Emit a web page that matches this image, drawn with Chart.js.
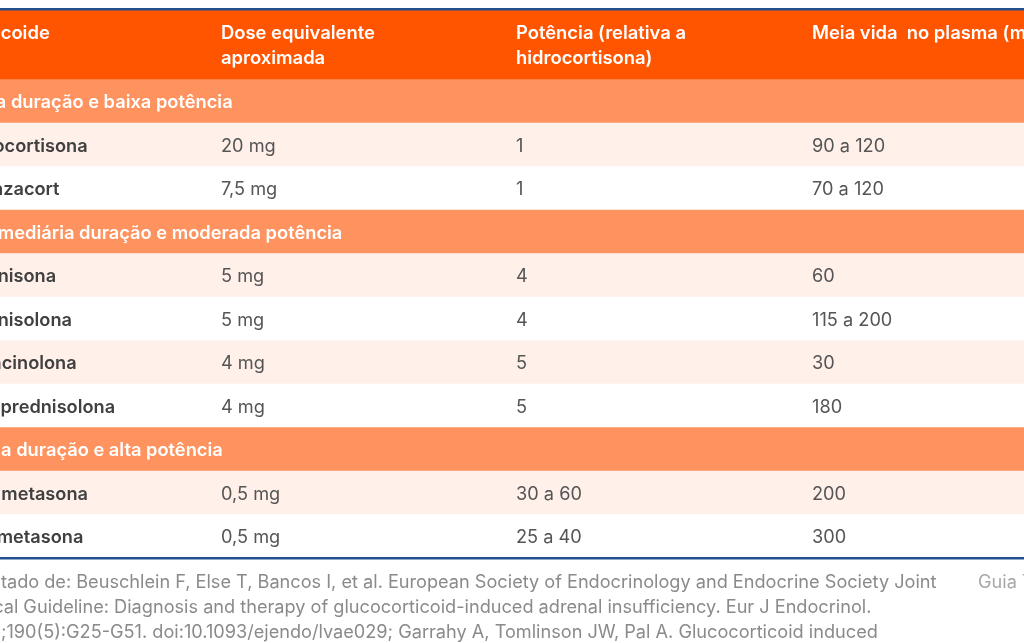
<!DOCTYPE html>
<html>
<head>
<meta charset="utf-8">
<script src="https://cdn.jsdelivr.net/npm/chart.js@4/dist/chart.umd.min.js"></script>
<style>
  html, body { margin: 0; padding: 0; background: #fff; overflow: hidden; }
  #wrap { position: relative; width: 1024px; height: 643px; overflow: hidden; }
  #chartBox { position: absolute; left: 0; top: 0; width: 1024px; height: 643px; }
  .foot { position: absolute; font-family: Inter, "Noto Sans", sans-serif; font-size: 18.15px; line-height: 25px; white-space: nowrap; }
  #note { left: -44px; top: 569px; color: #8a8a8a; }
  #side { left: 978px; top: 569px; color: #a8a8a8; }
</style>
</head>
<body>
<div id="wrap">
  <div id="chartBox"><canvas id="c"></canvas></div>
  <div class="foot" id="note"></div>
  <div class="foot" id="side"></div>
</div>
<script>
// ---- data ----
const headers = ["Corticoide", "Dose equivalente\naproximada", "Potência (relativa a\nhidrocortisona)", "Meia vida  no plasma (minutos)"];
const rowKinds = ["group", "row", "row", "group", "row", "row", "row", "row", "group", "row", "row"];
const rowNames = ["Curta duração e baixa potência", "Hidrocortisona", "Deflazacort",
                  "Intermediária duração e moderada potência", "Prednisona", "Prednisolona", "Triancinolona", "Metilprednisolona",
                  "Longa duração e alta potência", "Dexametasona", "Betametasona"];
const doses = ["", "20 mg", "7,5 mg", "", "5 mg", "5 mg", "4 mg", "4 mg", "", "0,5 mg", "0,5 mg"];
const potencias = ["", "1", "1", "", "4", "4", "5", "5", "", "30 a 60", "25 a 40"];
const meiaVida = ["", "90 a 120", "70 a 120", "", "60", "115 a 200", "30", "180", "", "200", "300"];
const footLines = [
  "Adaptado de: Beuschlein F, Else T, Bancos I, et al. European Society of Endocrinology and Endocrine Society Joint",
  "Clinical Guideline: Diagnosis and therapy of glucocorticoid-induced adrenal insufficiency. Eur J Endocrinol.",
  "2024;190(5):G25-G51. doi:10.1093/ejendo/lvae029; Garrahy A, Tomlinson JW, Pal A. Glucocorticoid induced"
];
const sideNote = "Guia Tratamento";

// ---- layout / style (not data) ----
const HEADER_UNITS = 70.5 / 43.5;     // header row height relative to a body row
const COL_X = [-43, 221, 516, 812];   // column text starts, in x-scale units (pixels of width)
const C_HEAD = "#ff5500", C_GROUP = "#ff935f", C_LIGHT = "#fff0ea", C_WHITE = "#ffffff";
const C_LINE = "#24508f";
const FONT = 'Inter, "Noto Sans", sans-serif';

document.getElementById('note').innerHTML = footLines.map(s => s.replace(/&/g,'&amp;')).join('<br>');
document.getElementById('side').textContent = sideNote;

// body row colors: group rows salmon, within a group alternate light / white
let alt = 0;
const rowColors = rowKinds.map(k => {
  if (k === "group") { alt = 0; return C_GROUP; }
  const c = (alt % 2 === 0) ? C_LIGHT : C_WHITE; alt++; return c;
});

const headerData = [{ x: [0, 1024], y: HEADER_UNITS / 2 }];
const bodyData = rowNames.map((_, i) => ({ x: [0, 1024], y: HEADER_UNITS + i + 0.5 }));

const tablePlugin = {
  id: 'tableText',
  afterDatasetsDraw(chart) {
    const ctx = chart.ctx;
    const xs = chart.scales.x;
    const hMeta = chart.getDatasetMeta(0);
    const bMeta = chart.getDatasetMeta(1);
    ctx.save();
    ctx.textBaseline = 'middle';
    ctx.textAlign = 'left';
    // header
    const hy = hMeta.data[0].y;
    ctx.fillStyle = '#ffffff';
    ctx.font = '600 18.4px ' + FONT;
    headers.forEach((h, j) => {
      const x = xs.getPixelForValue(COL_X[j]);
      h.split('\n').forEach((ln, k) => ctx.fillText(ln, x, hy - 10.5 + k * 25));
    });
    // body
    bMeta.data.forEach((el, i) => {
      const y = el.y + 1.5;
      if (rowKinds[i] === 'group') {
        ctx.fillStyle = '#ffffff';
        ctx.font = '600 18.3px ' + FONT;
        ctx.fillText(rowNames[i], xs.getPixelForValue(COL_X[0]), y);
        return;
      }
      ctx.fillStyle = '#404040';
      ctx.font = '600 18.2px ' + FONT;
      ctx.fillText(rowNames[i], xs.getPixelForValue(COL_X[0]), y);
      ctx.fillStyle = '#555555';
      ctx.font = '400 18.2px ' + FONT;
      ctx.fillText(doses[i], xs.getPixelForValue(COL_X[1]), y);
      ctx.fillText(potencias[i], xs.getPixelForValue(COL_X[2]), y);
      ctx.fillText(meiaVida[i], xs.getPixelForValue(COL_X[3]), y);
    });
    ctx.restore();
  }
};

const axisCommon = {
  type: 'linear', min: 0, max: 1024, display: true,
  grid: { display: false, drawTicks: false },
  ticks: { display: false },
  border: { display: true, color: C_LINE, width: 2.5, z: 1 },
  z: 1
};

new Chart(document.getElementById('c'), {
  type: 'bar',
  data: {
    datasets: [
      { label: 'header', data: headerData, backgroundColor: C_HEAD, borderWidth: 0,
        grouped: false, categoryPercentage: 1, barPercentage: HEADER_UNITS },
      { label: 'rows', data: bodyData, backgroundColor: rowColors, borderWidth: 0,
        grouped: false, categoryPercentage: 1, barPercentage: 1 }
    ]
  },
  options: {
    indexAxis: 'y',
    responsive: true,
    maintainAspectRatio: false,
    animation: false,
    events: [],
    layout: { padding: { top: 9, bottom: 643 - 558, left: 0, right: 0 } },
    plugins: { legend: { display: false }, tooltip: { enabled: false }, title: { display: false } },
    scales: {
      y: { type: 'linear', min: 0, max: HEADER_UNITS + rowNames.length, reverse: true, display: false,
           afterBuildTicks: s => { s.ticks = []; } },
      x: Object.assign({}, axisCommon, { position: 'bottom' }),
      x2: Object.assign({}, axisCommon, { position: 'top' })
    }
  },
  plugins: [tablePlugin]
});
</script>
</body>
</html>
